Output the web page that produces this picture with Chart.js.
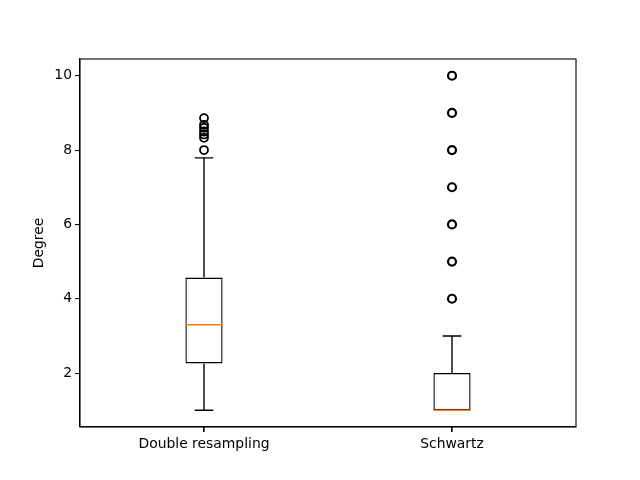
<!DOCTYPE html>
<html lang="en">
<head>
  <meta charset="UTF-8">
  <title>Degree box plot</title>
  <script src="https://cdn.jsdelivr.net/npm/chart.js"></script>
  <style>
    body { margin: 0; background: white; }
    #wrap { width: 640px; height: 480px; }
  </style>
</head>
<body>
  <div id="wrap"><canvas id="boxChart" width="640" height="480"></canvas></div>
  <script>
    // values
    const groups = ['Double resampling', 'Schwartz'];
    const q1 = [2.26, 1];
    const q3 = [4.57, 2];
    const medians = [3.30, 1];
    const whiskerLow = [1, 1];
    const whiskerHigh = [7.79, 3];
    const outliersDouble = [8.0, 8.33, 8.42, 8.5, 8.6, 8.68, 8.86];
    const outliersSchwartz = [4, 5, 6, 7, 8, 9, 10];
    const yMin = 0.55, yMax = 10.45, yStep = 2;

    const LW = 1.4;
    const FONT = { family: 'DejaVu Sans', size: 13.9 };

    // whiskers, caps, medians, x tick marks and the full axes frame
    const boxExtras = {
      id: 'boxExtras',
      afterDatasetsDraw(chart) {
        const ctx = chart.ctx;
        const x = chart.scales.x, y = chart.scales.y;
        const bars = chart.getDatasetMeta(0).data;
        const a = chart.chartArea;
        ctx.save();
        ctx.lineCap = 'butt';
        for (let i = 0; i < groups.length; i++) {
          const cx = x.getPixelForValue(i);
          const half = bars[i].width / 2;
          const cap = half / 2;
          ctx.strokeStyle = 'black';
          ctx.lineWidth = LW;
          ctx.beginPath();
          ctx.moveTo(cx, y.getPixelForValue(q3[i]));
          ctx.lineTo(cx, y.getPixelForValue(whiskerHigh[i]));
          ctx.moveTo(cx, y.getPixelForValue(q1[i]));
          ctx.lineTo(cx, y.getPixelForValue(whiskerLow[i]));
          ctx.moveTo(cx - cap, y.getPixelForValue(whiskerHigh[i]));
          ctx.lineTo(cx + cap, y.getPixelForValue(whiskerHigh[i]));
          ctx.moveTo(cx - cap, y.getPixelForValue(whiskerLow[i]));
          ctx.lineTo(cx + cap, y.getPixelForValue(whiskerLow[i]));
          ctx.stroke();
          ctx.strokeStyle = '#ff7f0e';
          ctx.beginPath();
          ctx.moveTo(cx - half, y.getPixelForValue(medians[i]));
          ctx.lineTo(cx + half, y.getPixelForValue(medians[i]));
          ctx.stroke();
          ctx.strokeStyle = 'black';
          ctx.lineWidth = 1.1;
          ctx.beginPath();
          ctx.moveTo(cx, a.bottom);
          ctx.lineTo(cx, a.bottom + 5);
          ctx.stroke();
        }
        ctx.strokeStyle = 'black';
        ctx.lineWidth = 1.1;
        ctx.strokeRect(a.left, a.top, a.right - a.left, a.bottom - a.top);
        ctx.restore();
      }
    };

    const outlierPoints = (vals, g) => vals.map(v => ({ x: g, y: v }));
    const outlierSet = (vals, g, width) => ({
      type: 'line',
      showLine: false,
      data: outlierPoints(vals, g),
      pointStyle: 'circle',
      pointRadius: 4,
      pointBorderWidth: width,
      pointBorderColor: 'black',
      pointBackgroundColor: 'rgba(0,0,0,0)',
      order: 1
    });

    new Chart(document.getElementById('boxChart'), {
      type: 'bar',
      data: {
        labels: groups,
        datasets: [
          {
            data: groups.map((g, i) => [q1[i], q3[i]]),
            backgroundColor: 'white',
            borderColor: 'black',
            borderWidth: LW,
            borderSkipped: false,
            categoryPercentage: 1,
            barPercentage: 0.15,
            order: 2
          },
          outlierSet(outliersDouble, groups[0], 1.8),
          outlierSet(outliersSchwartz, groups[1], 2.2)
        ]
      },
      options: {
        responsive: false,
        devicePixelRatio: 1,
        animation: false,
        layout: { padding: { left: 0, right: 64, top: 59, bottom: 0 } },
        plugins: { legend: { display: false }, tooltip: { enabled: false } },
        scales: {
          x: {
            offset: true,
            grid: { display: true, offset: false, drawOnChartArea: false, tickLength: 5, color: 'black', lineWidth: 1.1 },
            border: { display: true, color: 'black', width: 1.1 },
            ticks: { color: 'black', font: FONT, padding: 4 },
            afterFit(scale) { scale.height = 53; }
          },
          y: {
            min: yMin,
            max: yMax,
            grid: { display: true, drawOnChartArea: false, tickLength: 5, color: 'black', lineWidth: 1.1 },
            border: { display: true, color: 'black', width: 1.1 },
            ticks: { stepSize: yStep, includeBounds: false, color: 'black', font: FONT, padding: 3 },
            title: { display: true, text: 'Degree', color: 'black', font: FONT, padding: { top: 31, bottom: 0 } },
            afterFit(scale) { scale.width = 80; }
          }
        }
      },
      plugins: [boxExtras]
    });
  </script>
</body>
</html>
